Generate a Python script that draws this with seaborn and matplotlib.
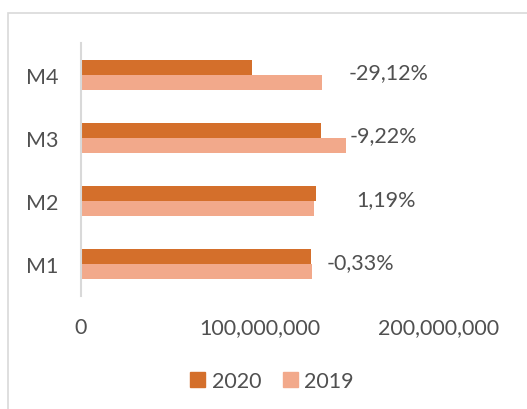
import matplotlib
matplotlib.use("Agg")
import matplotlib.pyplot as plt
import seaborn as sns
import pandas as pd
from matplotlib.patches import Rectangle
from matplotlib.ticker import FuncFormatter

# ---- data ----
categories = ["M4", "M3", "M2", "M1"]
series_names = ["2020", "2019"]
values_2020 = [95.5e6, 134.0e6, 131.2e6, 128.4e6]
values_2019 = [134.5e6, 147.9e6, 130.1e6, 129.0e6]
change_labels = ["-29,12%", "-9,22%", "1,19%", "-0,33%"]
x_ticks = [0, 100_000_000, 200_000_000]

# label placement (layout only)
label_x = [171.9e6, 168.8e6, 170.2e6, 156.0e6]

df = pd.DataFrame({
    "cat": categories * 2,
    "year": [series_names[0]] * 4 + [series_names[1]] * 4,
    "value": values_2020 + values_2019,
})

sns.set_theme(style="white")
plt.rcParams["font.family"] = ["Lato", "DejaVu Sans"]
text_color = "#505050"
c2020 = "#D46F2B"
c2019 = "#F2A98B"
fs = 15.5

fig = plt.figure(figsize=(5.27, 4.10), dpi=100)
# chart-area border
fig.patches.append(Rectangle((8 / 527, -0.1), 1.2, 1 - 14 / 410 + 0.1,
                             transform=fig.transFigure, fill=False,
                             edgecolor="#D9D9D9", linewidth=1.2))

ax = fig.add_axes([80.5 / 527, 1 - 297 / 410, (439 - 80.5) / 527, (297 - 44) / 410])
sns.barplot(data=df, y="cat", x="value", hue="year", order=categories,
            hue_order=series_names, palette=[c2020, c2019], width=0.474,
            orient="h", ax=ax, legend=False, saturation=1)

ax.set_xlim(0, 200e6)
ax.set_ylim(3.5, -0.5)
ax.set_xticks(x_ticks)
ax.xaxis.set_major_formatter(FuncFormatter(lambda v, p: f"{int(v):,}"))
ax.set_xlabel("")
ax.set_ylabel("")
for s in ["top", "right", "bottom"]:
    ax.spines[s].set_visible(False)
ax.spines["left"].set_color("#D9D9D9")
ax.spines["left"].set_linewidth(1.5)
ax.tick_params(axis="x", length=0, pad=15, labelsize=fs, labelcolor=text_color)
ax.tick_params(axis="y", length=0, pad=16, labelsize=fs, labelcolor=text_color)
for p in ax.patches:
    p.set_linewidth(0)

for i, lab in enumerate(change_labels):
    ax.text(label_x[i], i - 0.04, lab, ha="center", va="center",
            fontsize=fs, color=text_color)

# legend
handles = [Rectangle((0, 0), 1, 1, color=c2020), Rectangle((0, 0), 1, 1, color=c2019)]
fig.legend(handles, series_names, loc="center", bbox_to_anchor=(272 / 527, 1 - 382 / 410),
           ncol=2, frameon=False, fontsize=fs, handlelength=0.7, handleheight=0.7,
           handletextpad=0.3, columnspacing=1.0, labelcolor=text_color)

fig.savefig("out.png", dpi=100)
